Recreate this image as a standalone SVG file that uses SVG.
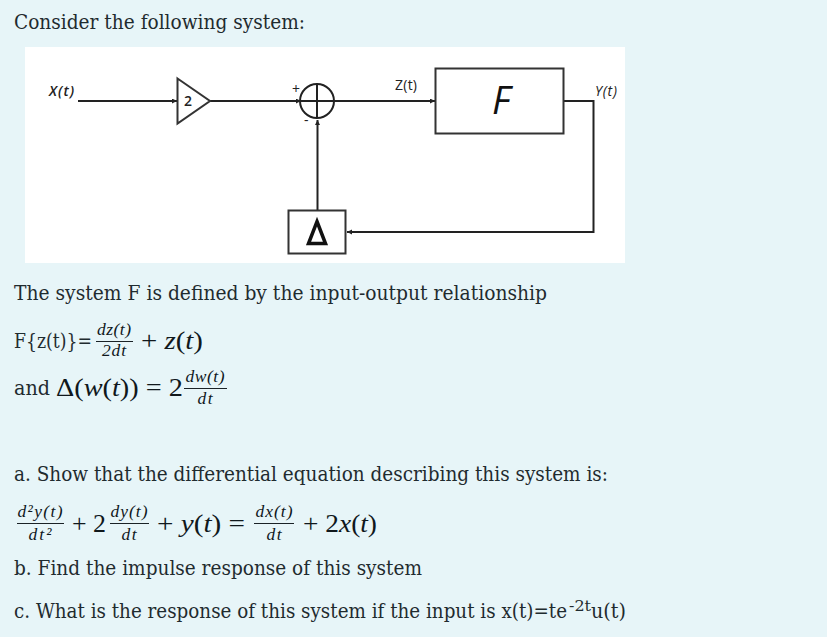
<svg xmlns="http://www.w3.org/2000/svg" width="827" height="637" viewBox="0 0 827 637">
<style>
.t{font-family:"DejaVu Serif","Liberation Serif",serif;font-size:20px;fill:#1f2b2f}
.m{font-family:"Liberation Serif",serif;font-size:25px;fill:#10181c}
.i{font-style:italic}
.f{font-family:"Liberation Serif",serif;font-size:17.500px;font-style:italic;fill:#10181c;text-anchor:middle}
.d{font-family:"Open Sans","DejaVu Sans",sans-serif;font-size:14px;fill:#222}
.l{fill:none;stroke:#222;stroke-width:2}
.b{fill:#fff;stroke:#333;stroke-width:2}
.r{stroke:#1a2226;stroke-width:1}
</style>
<defs>
<marker id="a" markerWidth="7" markerHeight="7" refX="5" refY="2.500" orient="auto" markerUnits="userSpaceOnUse"><path d="M0 0L5 2.500L0 5z" fill="#222"/></marker>
</defs>
<rect width="827" height="637" fill="#e7f5f8"/>
<rect x="25" y="47" width="600" height="216" fill="#fff"/>
<g id="connectors">
<path class="l" d="M78 101H177" marker-end="url(#a)"/>
<path class="l" d="M210 101H301" marker-end="url(#a)"/>
<path class="l" d="M333 101H435" marker-end="url(#a)"/>
<path class="l" d="M564 101H593.500V232H347" marker-end="url(#a)"/>
<path class="l" d="M317.500 210V120" marker-end="url(#a)"/>
</g>
<g id="gain"><path class="b" d="M177.500 78.500L210 101L177.500 123.500z"/><text class="d" x="184" y="106" font-size="13" font-weight="600">2</text></g>
<g id="sum"><circle class="l" cx="317" cy="101" r="17"/><path class="l" d="M300 101H334M317 84V118"/><text class="d" x="292" y="94" font-size="11">+</text><text class="d" x="304" y="125" font-size="11">-</text></g>
<g id="f-block"><rect class="b" x="435.500" y="68.500" width="128" height="65"/><text x="501" y="114" font-family="Open Sans,DejaVu Sans,sans-serif" font-size="38" font-style="italic" fill="#111" text-anchor="middle">F</text></g>
<g id="delta-block"><rect class="b" x="288.500" y="210.500" width="57" height="43"/><path d="M317 221.500L325.500 243.500H308.500z" fill="none" stroke="#111" stroke-width="3.500"/></g>
<g id="labels">
<text class="d i" x="49" y="96" font-weight="600" textLength="25">X(t)</text>
<text class="d" x="395" y="90" textLength="22">Z(t)</text>
<text class="d i" x="595" y="96" textLength="22">Y(t)</text>
</g>
<text class="t" x="14" y="29" textLength="291" lengthAdjust="spacingAndGlyphs">Consider the following system:</text>
<text class="t" x="14" y="300" textLength="533" lengthAdjust="spacingAndGlyphs">The system F is defined by the input-output relationship</text>
<text class="t" x="14" y="348" textLength="78" lengthAdjust="spacingAndGlyphs">F{z(t)}=</text>
<text class="f" x="114" y="335" textLength="34">dz(t)</text><path class="r" d="M96 341.500H133"/><text class="f" x="114" y="356" textLength="24">2dt</text>
<text class="m" x="141" y="349" textLength="62" lengthAdjust="spacingAndGlyphs">+ <tspan class="i">z</tspan>(<tspan class="i">t</tspan>)</text>
<text class="t" x="14" y="395" textLength="36" lengthAdjust="spacingAndGlyphs">and</text>
<text class="m" x="56" y="396" textLength="127" lengthAdjust="spacingAndGlyphs">Δ(<tspan class="i">w</tspan>(<tspan class="i">t</tspan>)) = 2</text>
<text class="f" x="205" y="382" textLength="39">dw(t)</text><path class="r" d="M184 388.500H227"/><text class="f" x="205" y="404" textLength="15">dt</text>
<text class="t" x="14" y="481" textLength="594" lengthAdjust="spacingAndGlyphs">a. Show that the differential equation describing this system is:</text>
<text class="f" x="40" y="517" textLength="45">d²y(t)</text><path class="r" d="M17 523.500H64"/><text class="f" x="40" y="540" textLength="23">dt²</text>
<text class="m" x="72" y="532" textLength="34" lengthAdjust="spacingAndGlyphs">+ 2</text>
<text class="f" x="129" y="517" textLength="37">dy(t)</text><path class="r" d="M110 523.500H149"/><text class="f" x="129" y="540" textLength="15">dt</text>
<text class="m" x="157" y="532" textLength="88" lengthAdjust="spacingAndGlyphs">+ <tspan class="i">y</tspan>(<tspan class="i">t</tspan>) =</text>
<text class="f" x="274" y="517" textLength="37">dx(t)</text><path class="r" d="M254 523.500H294"/><text class="f" x="274" y="540" textLength="15">dt</text>
<text class="m" x="303" y="532" textLength="74" lengthAdjust="spacingAndGlyphs">+ 2<tspan class="i">x</tspan>(<tspan class="i">t</tspan>)</text>
<text class="t" x="14" y="575" textLength="408" lengthAdjust="spacingAndGlyphs">b. Find the impulse response of this system</text>
<text class="t" x="14" y="618" textLength="553" lengthAdjust="spacingAndGlyphs">c. What is the response of this system if the input is x(t)=te</text>
<text class="t" x="569" y="611" style="font-size:15px" textLength="22" lengthAdjust="spacingAndGlyphs">-2t</text>
<text class="t" x="591" y="618" textLength="35" lengthAdjust="spacingAndGlyphs">u(t)</text>
</svg>
